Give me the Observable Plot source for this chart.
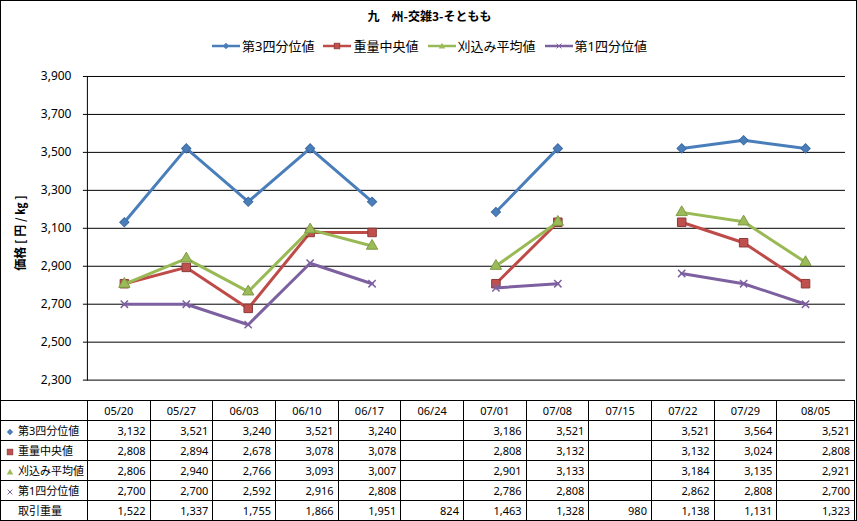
<!DOCTYPE html>
<html><head><meta charset="utf-8">
<script src="https://cdn.jsdelivr.net/npm/d3@7"></script>
<script src="https://cdn.jsdelivr.net/npm/@observablehq/plot@0.6"></script>
<style>
html,body{margin:0;padding:0;background:#fff;}
#wrap{position:relative;width:857px;height:521px;box-sizing:border-box;border:1px solid #000;font-family:"Noto Sans","Noto Sans CJK JP",sans-serif;overflow:hidden;}
#title{position:absolute;left:0;top:6px;width:857px;text-align:center;font-weight:bold;font-size:12px;font-family:"Noto Sans CJK JP",sans-serif;}
#legend{position:absolute;left:0;top:35px;width:857px;display:flex;justify-content:center;gap:9px;font-size:13px;font-family:"Noto Sans","Noto Sans CJK JP",sans-serif;}
#legend .it{display:flex;align-items:center;gap:2px;}
#chart{position:absolute;left:-1px;top:59px;}
#ylab{position:absolute;left:10px;top:232px;transform:translate(-50%,-50%) rotate(-90deg);transform-origin:center;left:18px;font-weight:bold;font-size:12px;white-space:nowrap;font-family:"Noto Sans CJK JP",sans-serif;}
table{position:absolute;left:-1px;top:399px;border-collapse:collapse;table-layout:fixed;font-size:11px;font-family:"Noto Sans","Noto Sans CJK JP",sans-serif;}
td{border:1px solid #000;height:19px;padding:0 4px 0 0;text-align:right;white-space:nowrap;overflow:hidden;line-height:19px;}
tr.h td{text-align:center;padding:0;}
td.l{text-align:left;padding:0 0 0 4px;}
td.l svg{vertical-align:middle;margin-right:3px;}
</style></head>
<body><div id="wrap">
<div id="title">九　州-交雑3-そともも</div>
<div id="legend"></div>
<div id="chart"></div>
<div id="ylab">価格 [ 円 / ㎏ ]</div>
</div>
<script>
const dates = ["05/20","05/27","06/03","06/10","06/17","06/24","07/01","07/08","07/15","07/22","07/29","08/05"];
const q3  = [3132,3521,3240,3521,3240,null,3186,3521,null,3521,3564,3521];
const med = [2808,2894,2678,3078,3078,null,2808,3132,null,3132,3024,2808];
const avg = [2806,2940,2766,3093,3007,null,2901,3133,null,3184,3135,2921];
const q1  = [2700,2700,2592,2916,2808,null,2786,2808,null,2862,2808,2700];
const vol = [1522,1337,1755,1866,1951,824,1463,1328,980,1138,1131,1323];
const yTicks = [2300,2500,2700,2900,3100,3300,3500,3700,3900];
const seriesNames = ["第3四分位値","重量中央値","刈込み平均値","第1四分位値"];
const volName = "取引重量";

const styles = [
  {line:"#4A7EBB", fill:"#4A7EBB", stroke:"#3E6BA3", symbol:"square", rotate:45, r:3.7},
  {line:"#BE4B48", fill:"#C0504D", stroke:"#8C3A38", symbol:"square", rotate:0, r:4.8},
  {line:"#98B954", fill:"#9BBB59", stroke:"#7C9A42", symbol:"triangle", rotate:0, r:4.2},
  {line:"#7D60A0", fill:"none", stroke:"#7D60A0", symbol:"times", rotate:0, r:3.4}
];
const values = [q3, med, avg, q1];
const rows = values.map((arr, i) => dates.map((d, j) => ({date:d, v:arr[j], s:i})));

const fmt = d3.format(",");
const marks = [
  Plot.ruleY(yTicks, {stroke:"#000", strokeWidth:1, insetRight:-4}),
  Plot.axisY({ticks: yTicks, tickFormat: fmt, tickSize: 4, tickPadding: 12, fontSize: 12, label: null, stroke:"#000"}),
  Plot.frame({anchor:"left", stroke:"#000"})
];
rows.forEach((r, i) => {
  const st = styles[i];
  marks.push(Plot.line(r, {x:"date", y:"v", stroke: st.line, strokeWidth: 3, curve:"linear"}));
  marks.push(Plot.dot(r.filter(d => d.v != null), {x:"date", y:"v", symbol: st.symbol, rotate: st.rotate, r: st.r, fill: st.fill, stroke: st.stroke, strokeWidth: i===3 ? 1.5 : 1}));
});

const chart = Plot.plot({
  width: 857, height: 341,
  marginLeft: 87, marginRight: 15, marginTop: 16, marginBottom: 21,
  x: {type:"point", domain: dates, padding: 0.5, axis: null},
  y: {domain:[2300,3900], axis: null},
  style: {fontFamily: '"Noto Sans", sans-serif', color:"#000", background:"transparent"},
  marks
});
document.getElementById("chart").appendChild(chart);

// legend
function markerSvg(i, w, withLine) {
  const st = styles[i];
  const W = withLine ? 28 : 10, H = 12, cx = W/2, cy = H/2;
  let s = `<svg width="${W}" height="${H}" viewBox="0 0 ${W} ${H}">`;
  if (withLine) s += `<line x1="0" y1="${cy}" x2="${W}" y2="${cy}" stroke="${st.line}" stroke-width="2.5"/>`;
  const k = withLine ? 0.8 : 0.8;
  if (i === 0) { const a = 4*k; s += `<path d="M${cx},${cy-a}L${cx+a},${cy}L${cx},${cy+a}L${cx-a},${cy}Z" fill="${st.fill}"/>`; }
  if (i === 1) { const a = 3.5*k; s += `<rect x="${cx-a}" y="${cy-a}" width="${2*a}" height="${2*a}" fill="${st.fill}" stroke="${st.stroke}" stroke-width="0.8"/>`; }
  if (i === 2) { const a = 4*k; s += `<path d="M${cx},${cy-a}L${cx+a},${cy+a*0.8}L${cx-a},${cy+a*0.8}Z" fill="${st.fill}"/>`; }
  if (i === 3) { const a = 3*k; s += `<path d="M${cx-a},${cy-a}L${cx+a},${cy+a}M${cx+a},${cy-a}L${cx-a},${cy+a}" stroke="${st.stroke}" stroke-width="1"/>`; }
  return s + `</svg>`;
}
const leg = document.getElementById("legend");
seriesNames.forEach((n, i) => {
  const d = document.createElement("div"); d.className = "it";
  d.innerHTML = markerSvg(i, 28, true) + `<span>${n}</span>`;
  leg.appendChild(d);
});

// data table
const colW = [87].concat(dates.map((d,j) => j === dates.length-1 ? 78 : 63));
let html = `<table><colgroup>${colW.map(w => `<col style="width:${w}px">`).join("")}</colgroup>`;
html += `<tr class="h"><td></td>${dates.map(d => `<td>${d}</td>`).join("")}</tr>`;
values.forEach((arr, i) => {
  html += `<tr><td class="l">${markerSvg(i, 10, false)}${seriesNames[i]}</td>${arr.map(v => `<td>${v == null ? "" : fmt(v)}</td>`).join("")}</tr>`;
});
html += `<tr><td class="l"><span style="display:inline-block;width:13px"></span>${volName}</td>${vol.map(v => `<td>${fmt(v)}</td>`).join("")}</tr>`;
html += `</table>`;
document.getElementById("wrap").insertAdjacentHTML("beforeend", html);
</script>
</body></html>
